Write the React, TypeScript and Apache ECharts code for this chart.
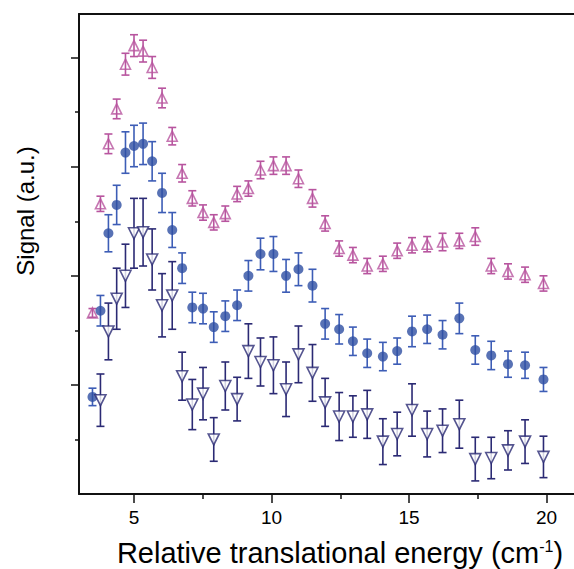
import React, { useEffect, useRef } from "react";
import * as echarts from "echarts";

// Relative translational energy (cm^-1) of each measured point
const energy = [3.49, 3.78, 4.07, 4.37, 4.69, 5.0, 5.33, 5.66, 6.02, 6.39, 6.75, 7.12, 7.51, 7.9, 8.32, 8.75, 9.16, 9.6, 10.07, 10.53, 10.98, 11.49, 11.95, 12.46, 12.96, 13.48, 14.05, 14.57, 15.11, 15.66, 16.22, 16.83, 17.41, 17.99, 18.6, 19.22, 19.89];

// open up-triangles (magenta)
const signalUp = [1.66, 2.66, 3.21, 3.53, 3.94, 4.11, 4.06, 3.91, 3.63, 3.28, 2.94, 2.71, 2.58, 2.49, 2.57, 2.75, 2.8, 2.97, 3.01, 3.01, 2.89, 2.71, 2.48, 2.25, 2.19, 2.09, 2.11, 2.23, 2.28, 2.29, 2.31, 2.32, 2.36, 2.09, 2.04, 2.01, 1.93];
const errUp = [0.04, 0.07, 0.09, 0.09, 0.1, 0.1, 0.1, 0.1, 0.09, 0.08, 0.08, 0.07, 0.07, 0.07, 0.07, 0.07, 0.07, 0.08, 0.08, 0.08, 0.08, 0.08, 0.07, 0.07, 0.07, 0.07, 0.07, 0.07, 0.07, 0.07, 0.08, 0.07, 0.08, 0.07, 0.07, 0.07, 0.07];

// filled circles (blue)
const signalDot = [0.89, 1.68, 2.39, 2.65, 3.13, 3.19, 3.21, 3.05, 2.76, 2.42, 2.07, 1.71, 1.7, 1.53, 1.63, 1.73, 2.0, 2.2, 2.2, 2.0, 2.06, 1.91, 1.56, 1.51, 1.4, 1.29, 1.26, 1.31, 1.49, 1.51, 1.46, 1.61, 1.32, 1.27, 1.19, 1.18, 1.05];
const errDot = [0.08, 0.14, 0.17, 0.18, 0.19, 0.19, 0.19, 0.18, 0.18, 0.16, 0.14, 0.14, 0.14, 0.14, 0.14, 0.14, 0.14, 0.145, 0.16, 0.15, 0.15, 0.15, 0.14, 0.135, 0.13, 0.13, 0.13, 0.12, 0.14, 0.13, 0.13, 0.14, 0.13, 0.13, 0.12, 0.12, 0.11];

// open down-triangles (navy)
const signalDown = [null, 0.86, 1.49, 1.79, 2.0, 2.39, 2.4, 2.15, 1.73, 1.82, 1.08, 0.82, 0.92, 0.5, 0.99, 0.87, 1.31, 1.21, 1.18, 0.96, 1.28, 1.11, 0.84, 0.71, 0.71, 0.73, 0.48, 0.55, 0.77, 0.55, 0.58, 0.64, 0.32, 0.33, 0.4, 0.48, 0.34];
const errDown = [null, 0.24, 0.26, 0.28, 0.29, 0.32, 0.31, 0.28, 0.29, 0.31, 0.22, 0.23, 0.24, 0.2, 0.22, 0.2, 0.25, 0.22, 0.26, 0.25, 0.26, 0.26, 0.22, 0.22, 0.19, 0.22, 0.21, 0.2, 0.24, 0.21, 0.2, 0.22, 0.2, 0.19, 0.18, 0.2, 0.19];

const xMajorTicks = [5, 10, 15, 20];
const xMinorTicks = [7.5, 12.5, 17.5];
const yMajorTicks = [1, 2, 3, 4];
const yMinorTicks = [0.5, 1.5, 2.5, 3.5];

const FONT = "'Liberation Sans', Arial, Helvetica, sans-serif";
const PINK = "#b8559f";
const BLUE = "#2e4fa3";
const BLUE_BAR = "#3d5db6";
const NAVY = "#2b2a74";

function points(vals: (number | null)[]) {
  const out: number[][] = [];
  vals.forEach((v, i) => {
    if (v !== null) out.push([energy[i], v]);
  });
  return out;
}
function bars(vals: (number | null)[], errs: (number | null)[]) {
  const out: number[][] = [];
  vals.forEach((v, i) => {
    const e = errs[i];
    if (v !== null && e !== null) out.push([energy[i], v - e, v + e]);
  });
  return out;
}

function errorSeries(data: number[][], color: string, z: number) {
  return {
    type: "custom",
    xAxisIndex: 0,
    yAxisIndex: 0,
    silent: true,
    z,
    encode: { x: 0, y: [1, 2] },
    data,
    renderItem: (params: any, api: any) => {
      const x = api.value(0);
      const lo = api.coord([x, api.value(1)]);
      const hi = api.coord([x, api.value(2)]);
      const hw = 4;
      const style = { stroke: color, lineWidth: 1.6, fill: "none" };
      return {
        type: "group",
        children: [
          { type: "line", shape: { x1: lo[0], y1: lo[1], x2: hi[0], y2: hi[1] }, style },
          { type: "line", shape: { x1: lo[0] - hw, y1: lo[1], x2: lo[0] + hw, y2: lo[1] }, style },
          { type: "line", shape: { x1: hi[0] - hw, y1: hi[1], x2: hi[0] + hw, y2: hi[1] }, style },
        ],
      };
    },
  };
}

export default function App() {
  const ref = useRef<HTMLDivElement>(null);
  useEffect(() => {
    if (!ref.current) return;
    const chart = echarts.init(ref.current, null, { renderer: "svg" });
    const axisColor = "#111";
    chart.setOption({
      animation: false,
      backgroundColor: "#fff",
      grid: { left: 79, top: 14, right: -2, bottom: 75, containLabel: false },
      xAxis: [
        {
          type: "value",
          min: 3,
          max: 21,
          position: "bottom",
          axisLine: { show: true, lineStyle: { color: axisColor, width: 2 } },
          axisTick: { show: true, customValues: xMajorTicks, length: 9, lineStyle: { color: axisColor, width: 1.5 } },
          axisLabel: { show: true, customValues: xMajorTicks, margin: 14, fontSize: 19, fontFamily: FONT, color: "#000" },
          splitLine: { show: false },
        },
        {
          type: "value",
          min: 3,
          max: 21,
          position: "bottom",
          axisLine: { show: false },
          axisTick: { show: true, customValues: xMinorTicks, length: 5, lineStyle: { color: axisColor, width: 1.5 } },
          axisLabel: { show: false },
          splitLine: { show: false },
        },
        {
          type: "value",
          min: 3,
          max: 21,
          position: "top",
          axisLine: { show: true, lineStyle: { color: axisColor, width: 2 } },
          axisTick: { show: false },
          axisLabel: { show: false },
          splitLine: { show: false },
        },
      ],
      yAxis: [
        {
          type: "value",
          min: 0,
          max: 4.4,
          position: "left",
          axisLine: { show: true, lineStyle: { color: axisColor, width: 2 } },
          axisTick: { show: true, customValues: yMajorTicks, length: 8, lineStyle: { color: axisColor, width: 1.5 } },
          axisLabel: { show: false },
          splitLine: { show: false },
        },
        {
          type: "value",
          min: 0,
          max: 4.4,
          position: "left",
          axisLine: { show: false },
          axisTick: { show: true, customValues: yMinorTicks, length: 4, lineStyle: { color: axisColor, width: 1.5 } },
          axisLabel: { show: false },
          splitLine: { show: false },
        },
      ],
      graphic: [
        {
          type: "text",
          x: 25,
          y: 211,
          rotation: Math.PI / 2,
          style: {
            text: "Signal (a.u.)",
            fontSize: 24,
            fontFamily: FONT,
            fill: "#000",
            align: "center",
            verticalAlign: "middle",
          },
        },
        {
          type: "text",
          x: 340,
          y: 553,
          style: {
            text: "{n|Relative translational energy (cm}{s|-1}{n|)}",
            fill: "#000",
            align: "center",
            verticalAlign: "middle",
            rich: {
              n: { fontSize: 29, fontFamily: FONT, fill: "#000", lineHeight: 29 },
              s: { fontSize: 16, fontFamily: FONT, fill: "#000", verticalAlign: "top", lineHeight: 29 },
            },
          },
        },
      ],
      series: [
        errorSeries(bars(signalUp, errUp), PINK, 2),
        {
          type: "scatter",
          silent: true,
          z: 3,
          symbol: "triangle",
          symbolSize: [10, 10],
          itemStyle: { color: "rgba(255,255,255,0)", borderColor: PINK, borderWidth: 1.6 },
          data: points(signalUp),
        },
        errorSeries(bars(signalDot, errDot), BLUE_BAR, 4),
        {
          type: "scatter",
          silent: true,
          z: 5,
          symbol: "circle",
          symbolSize: 10,
          itemStyle: { color: BLUE },
          data: points(signalDot),
        },
        errorSeries(bars(signalDown, errDown), NAVY, 6),
        {
          type: "scatter",
          silent: true,
          z: 7,
          symbol: "triangle",
          symbolRotate: 180,
          symbolSize: [11, 11],
          itemStyle: { color: "#fff", borderColor: NAVY, borderWidth: 1.6 },
          data: points(signalDown),
        },
      ],
    });
    return () => chart.dispose();
  }, []);
  return (
    <div
      ref={ref}
      style={{ position: "absolute", left: 0, top: 0, width: 574, height: 569, overflow: "hidden" }}
    />
  );
}
